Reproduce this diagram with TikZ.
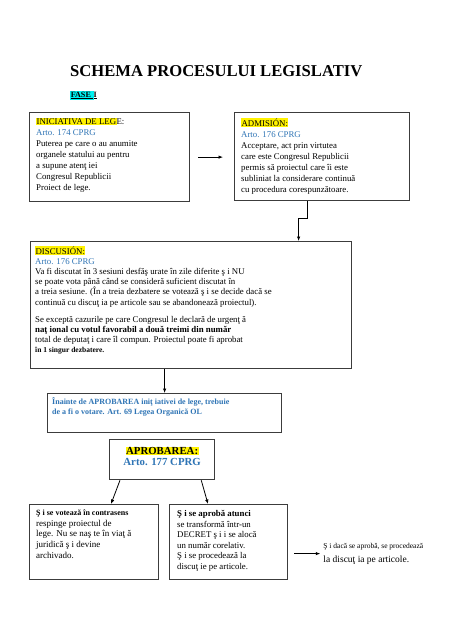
\documentclass[tikz,border=0pt]{standalone}
\usepackage{fontspec}
\setmainfont{Liberation Serif}
\usetikzlibrary{positioning}
\usetikzlibrary{arrows.meta}
\usetikzlibrary{calc}

\definecolor{artoblue}{RGB}{46,116,181}
\definecolor{boxgray}{RGB}{60,60,60}
\definecolor{fasecyan}{RGB}{0,240,240}
\newcommand{\hly}[1]{{\fboxsep=0.4pt\colorbox{yellow}{#1}}}
\newcommand{\fsz}[2]{\fontsize{#1}{#2}\selectfont}

\begin{document}
\begin{tikzpicture}[x=1pt, y=-1pt,
    caja/.style={draw=boxgray, line width=1.25pt, anchor=north west, inner sep=0pt},
    texto/.style={inner sep=0pt, align=left},
    flecha/.style={-{Latex[length=4.5pt,width=3.5pt]}, line width=0.8pt}]
    \path[fill=white] (0,0) rectangle (474,632);
    \useasboundingbox (0,0) rectangle (474,632);

    \node[anchor=base west, inner sep=0pt, font=\fsz{16.6}{20}\bfseries, name=titulo] at (70,76) {SCHEMA PROCESULUI LEGISLATIV};
    \node[anchor=base west, inner sep=0pt, font=\fsz{8.1}{10}\bfseries, name=fase] at (70,97) {{\fboxsep=0.6pt\colorbox{fasecyan}{\underline{FASE\ }}}\underline{I}};

    % fase I: iniciativa -> admision -> discusion
    \node[caja, minimum width=160pt, minimum height=89pt, name=ini] at (29,112) {};
    \node[texto, below right=6pt and 7pt of ini.north west, font=\fsz{8.8}{11}, name=iniT] {\hly{INICIATIVA DE LEG}E:\\
        {\color{artoblue}Arto. 174 CPRG}\\
        Puterea pe care o au anumite\\
        organele statului au pentru\\
        a supune atenţ iei\\
        Congresul Republicii\\
        Proiect de lege.};

    \node[caja, minimum width=175pt, minimum height=88pt, name=adm] at (234,112) {};
    \node[texto, below right=6pt and 7pt of adm.north west, font=\fsz{8.8}{11}, name=admT] {\hly{ADMISIÓN:}\\
        {\color{artoblue}Arto. 176 CPRG}\\
        Acceptare, act prin virtutea\\
        care este Congresul Republicii\\
        permis să proiectul care îi este\\
        subliniat la considerare continuă\\
        cu procedura corespunzătoare.};

    \node[caja, minimum width=321pt, minimum height=127pt, name=disc] at (30,241) {};
    \node[texto, below right=5pt and 5pt of disc.north west, font=\fsz{8.8}{10.2}, name=discT] {\hly{DISCUSIÓN:}\\
        {\color{artoblue}Arto. 176 CPRG}\\
        Va fi discutat în 3 sesiuni desfăş urate în zile diferite ş i NU\\
        se poate vota până când se consideră suficient discutat în\\
        a treia sesiune. (În a treia dezbatere se votează ş i se decide dacă se\\
        continuă cu discuţ ia pe articole sau se abandonează proiectul).\\[6.8pt]
        Se exceptă cazurile pe care Congresul le declară de urgenţ ă\\
        \textbf{naţ ional cu votul favorabil a două treimi din număr}\\
        total de deputaţ i care îl compun. Proiectul poate fi aprobat\\
        {\fsz{7.5}{10.2}\bfseries în 1 singur dezbatere.}};

    \node[caja, minimum width=234pt, minimum height=39pt, name=inainte] at (47,393) {};
    \node[texto, below right=4pt and 5pt of inainte.north west, font=\fsz{8}{10}\bfseries, text=artoblue, name=inainteT] {Înainte de APROBAREA iniţ iativei de lege, trebuie\\
        de a fi o votare. Art. 69 Legea Organică OL};

    \node[caja, minimum width=105pt, minimum height=40pt, name=apro] at (109,439) {};
    \node[texto, align=center, below=7.5pt of apro.north, font=\fsz{10.8}{11.5}\bfseries, name=aproT] {\hly{APROBAREA:}\\
        {\color{artoblue}Arto. 177 CPRG}};

    \node[caja, minimum width=129pt, minimum height=75pt, name=rech] at (29,504) {};
    \node[texto, below right=5.5pt and 7pt of rech.north west, font=\fsz{9}{10.8}, name=rechT] {{\fsz{8}{10.8}\bfseries Ş i se votează în contrasens}\\
        respinge proiectul de\\
        lege. Nu se naş te în viaţ ă\\
        juridică ş i devine\\
        archivado.};

    \node[caja, minimum width=118pt, minimum height=75pt, name=aprob] at (169,504) {};
    \node[texto, below right=6pt and 8pt of aprob.north west, font=\fsz{8.8}{10.6}, name=aprobT] {\textbf{Ş i se aprobă atunci}\\
        se transformă într-un\\
        DECRET ş i i se alocă\\
        un număr corelativ.\\
        Ş i se procedează la\\
        discuţ ie pe articole.};

    \node[texto, anchor=west, right=35pt of aprob.east, yshift=-11.5pt, name=nota] {{\fsz{7.5}{9}Ş i dacă se aprobă, se procedează}\\[2pt]
        {\fsz{9.5}{11}la discuţ ia pe articole.}};

    % flechas
    \draw[flecha] ([xshift=8pt]ini.east) -- ([xshift=-11pt]adm.west |- ini.east);
    \draw[flecha] ([xshift=-14.5pt]adm.south) -- ++(0,17) -| ([xshift=107.5pt]disc.north);
    \draw[flecha] (inainte.north |- disc.south) -- (inainte.north);
    \draw[flecha] ([xshift=11pt]apro.south west) -- ([xshift=82pt]rech.north west);
    \draw[flecha] ([xshift=-14pt]apro.south east) -- ([xshift=39pt]aprob.north west);
    \draw[flecha] ([xshift=6pt]aprob.east |- nota.west) -- ([xshift=-3pt]nota.west);
\end{tikzpicture}
\end{document}
